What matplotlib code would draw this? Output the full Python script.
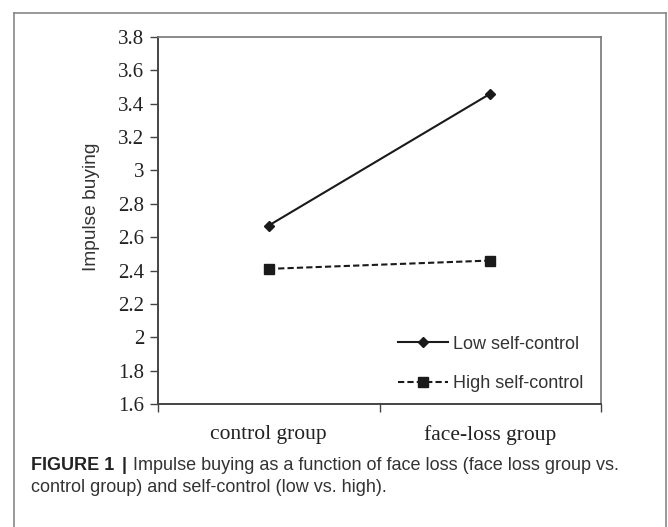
import matplotlib
matplotlib.use("Agg")
import matplotlib.pyplot as plt
from matplotlib.lines import Line2D

categories = ["control group", "face-loss group"]
low_self_control = [2.67, 3.46]
high_self_control = [2.41, 2.46]
y_ticks = [1.6, 1.8, 2.0, 2.2, 2.4, 2.6, 2.8, 3.0, 3.2, 3.4, 3.6, 3.8]
y_tick_labels = ["1.6", "1.8", "2", "2.2", "2.4", "2.6", "2.8", "3", "3.2", "3.4", "3.6", "3.8"]
series_names = ["Low self-control", "High self-control"]
caption_bold = "FIGURE 1"
caption_rest = "Impulse buying as a function of face loss (face loss group vs."
caption_line2 = "control group) and self-control (low vs. high)."
y_label = "Impulse buying"

W, H = 668, 527
fig = plt.figure(figsize=(W / 100, H / 100), dpi=100)

ax = fig.add_axes([158 / W, 1 - 404 / H, (601 - 158) / W, (404 - 37) / H])
x = list(range(len(categories)))
ax.plot(x, low_self_control, color="#1a1a1a", lw=1.5, marker="D", ms=5,
        label=series_names[0])
ax.plot(x, high_self_control, color="#1a1a1a", lw=1.5, ls=(0, (3, 1.5)),
        marker="s", ms=7, label=series_names[1])

ax.set_xlim(-0.5, len(categories) - 0.5)
ax.set_ylim(1.6, 3.8)
ax.set_yticks(y_ticks)
ax.set_yticklabels(y_tick_labels, family="Liberation Serif", fontsize=15, color="#222222")
ax.set_xticks([-0.5, 0.5, 1.5])
ax.set_xticklabels([])
ax.set_xticks(x, minor=True)
ax.set_xticklabels(categories, minor=True, family="Liberation Serif", fontsize=15.5, color="#222222")
ax.tick_params(axis="x", which="major", direction="out", length=6, width=1, color="#444444")
ax.tick_params(axis="x", which="minor", length=0, pad=15)
ax.tick_params(axis="y", direction="out", length=6, width=1, color="#444444", pad=4)

for s in ["left", "bottom"]:
    ax.spines[s].set_color("#444444")
    ax.spines[s].set_linewidth(1.4)
for s in ["top", "right"]:
    ax.spines[s].set_color("#777777")
    ax.spines[s].set_linewidth(1.2)

ax.set_ylabel(y_label, family="Liberation Sans", fontsize=13.8, color="#333333")
ax.yaxis.set_label_coords((92 - 158) / 443, (404 - 207) / 367)
ax.yaxis.label.set_verticalalignment("center")

leg = ax.legend(loc="lower right", bbox_to_anchor=(0.996, -0.012), frameon=False,
                prop={"family": "Liberation Sans", "size": 13}, handlelength=2.75,
                handletextpad=0.25, labelspacing=1.25, labelcolor="#333333")

# outer frame
frame_color = "#888888"
fig.add_artist(Line2D([14 / W, 14 / W], [0, 1 - 13 / H], transform=fig.transFigure, color=frame_color, lw=1.2))
fig.add_artist(Line2D([666 / W, 666 / W], [0, 1 - 13 / H], transform=fig.transFigure, color=frame_color, lw=1.2))
fig.add_artist(Line2D([14 / W, 666 / W], [1 - 13 / H, 1 - 13 / H], transform=fig.transFigure, color=frame_color, lw=1.2))

# caption
cap_size = 13
t1 = fig.text(31 / W, 1 - 466 / H, caption_bold, family="Liberation Sans", fontweight="bold",
              fontsize=cap_size, color="#222222", va="center")
fig.canvas.draw()
bb = t1.get_window_extent()
t2 = fig.text(bb.x1 / W + 7 / W, 1 - 466 / H, "|", family="Liberation Sans", fontweight="bold",
              fontsize=cap_size, color="#222222", va="center")
fig.canvas.draw()
bb2 = t2.get_window_extent()
fig.text(bb2.x1 / W + 7 / W, 1 - 466 / H, caption_rest, family="Liberation Sans",
         fontsize=cap_size, color="#333333", va="center")
fig.text(31 / W, 1 - 488 / H, caption_line2, family="Liberation Sans",
         fontsize=cap_size, color="#333333", va="center")

fig.savefig("out.png", dpi=100)
